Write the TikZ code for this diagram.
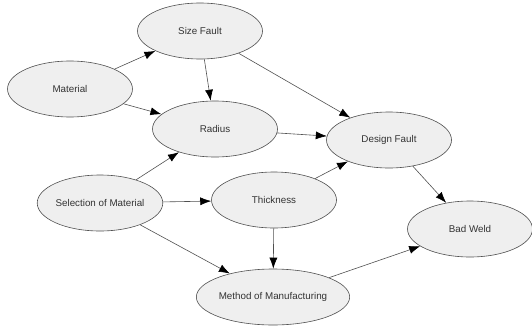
\documentclass[tikz,border=0pt]{standalone}
\usepackage{fontspec}
\setmainfont{Liberation Sans}
\usetikzlibrary{shapes.geometric,arrows.meta}
\definecolor{nodefill}{HTML}{EFEFEF}
\definecolor{edgegray}{HTML}{505050}

\begin{document}
\begin{tikzpicture}[x=1pt,y=-1pt,line join=round,
	factor/.style={ellipse,draw=edgegray,fill=nodefill,line width=0.6pt,
		minimum width=125pt,minimum height=56pt,inner sep=0pt,
		text=black!80,font=\fontsize{9.8}{11}\selectfont},
	link/.style={draw=edgegray,line width=0.6pt,-{Latex[length=11pt,width=8pt,color=black]}}]
	\useasboundingbox (0,0) rectangle (532,327);
	% nodes
	\node[factor] (size) at (200,31) {Size Fault};
	\node[factor] (mat) at (70,89) {Material};
	\node[factor] (rad) at (215,129) {Radius};
	\node[factor] (des) at (389,140) {Design Fault};
	\node[factor] (sel) at (100,203) {Selection of Material};
	\node[factor] (thk) at (274,200) {Thickness};
	\node[factor] (bad) at (470,229) {Bad Weld};
	\node[factor] (mom) at (273,297) {Method of Manufacturing};
	% edges
	\draw[link] (mat)--(size);
	\draw[link] (mat)--(rad);
	\draw[link] (size)--(rad);
	\draw[link] (size)--(des);
	\draw[link] (rad)--(des);
	\draw[link] (sel)--(rad);
	\draw[link] (sel)--(thk);
	\draw[link] (sel)--(mom);
	\draw[link] (thk)--(des);
	\draw[link] (thk)--(mom);
	\draw[link] (des)--(bad);
	\draw[link] (mom)--(bad);
\end{tikzpicture}
\end{document}
